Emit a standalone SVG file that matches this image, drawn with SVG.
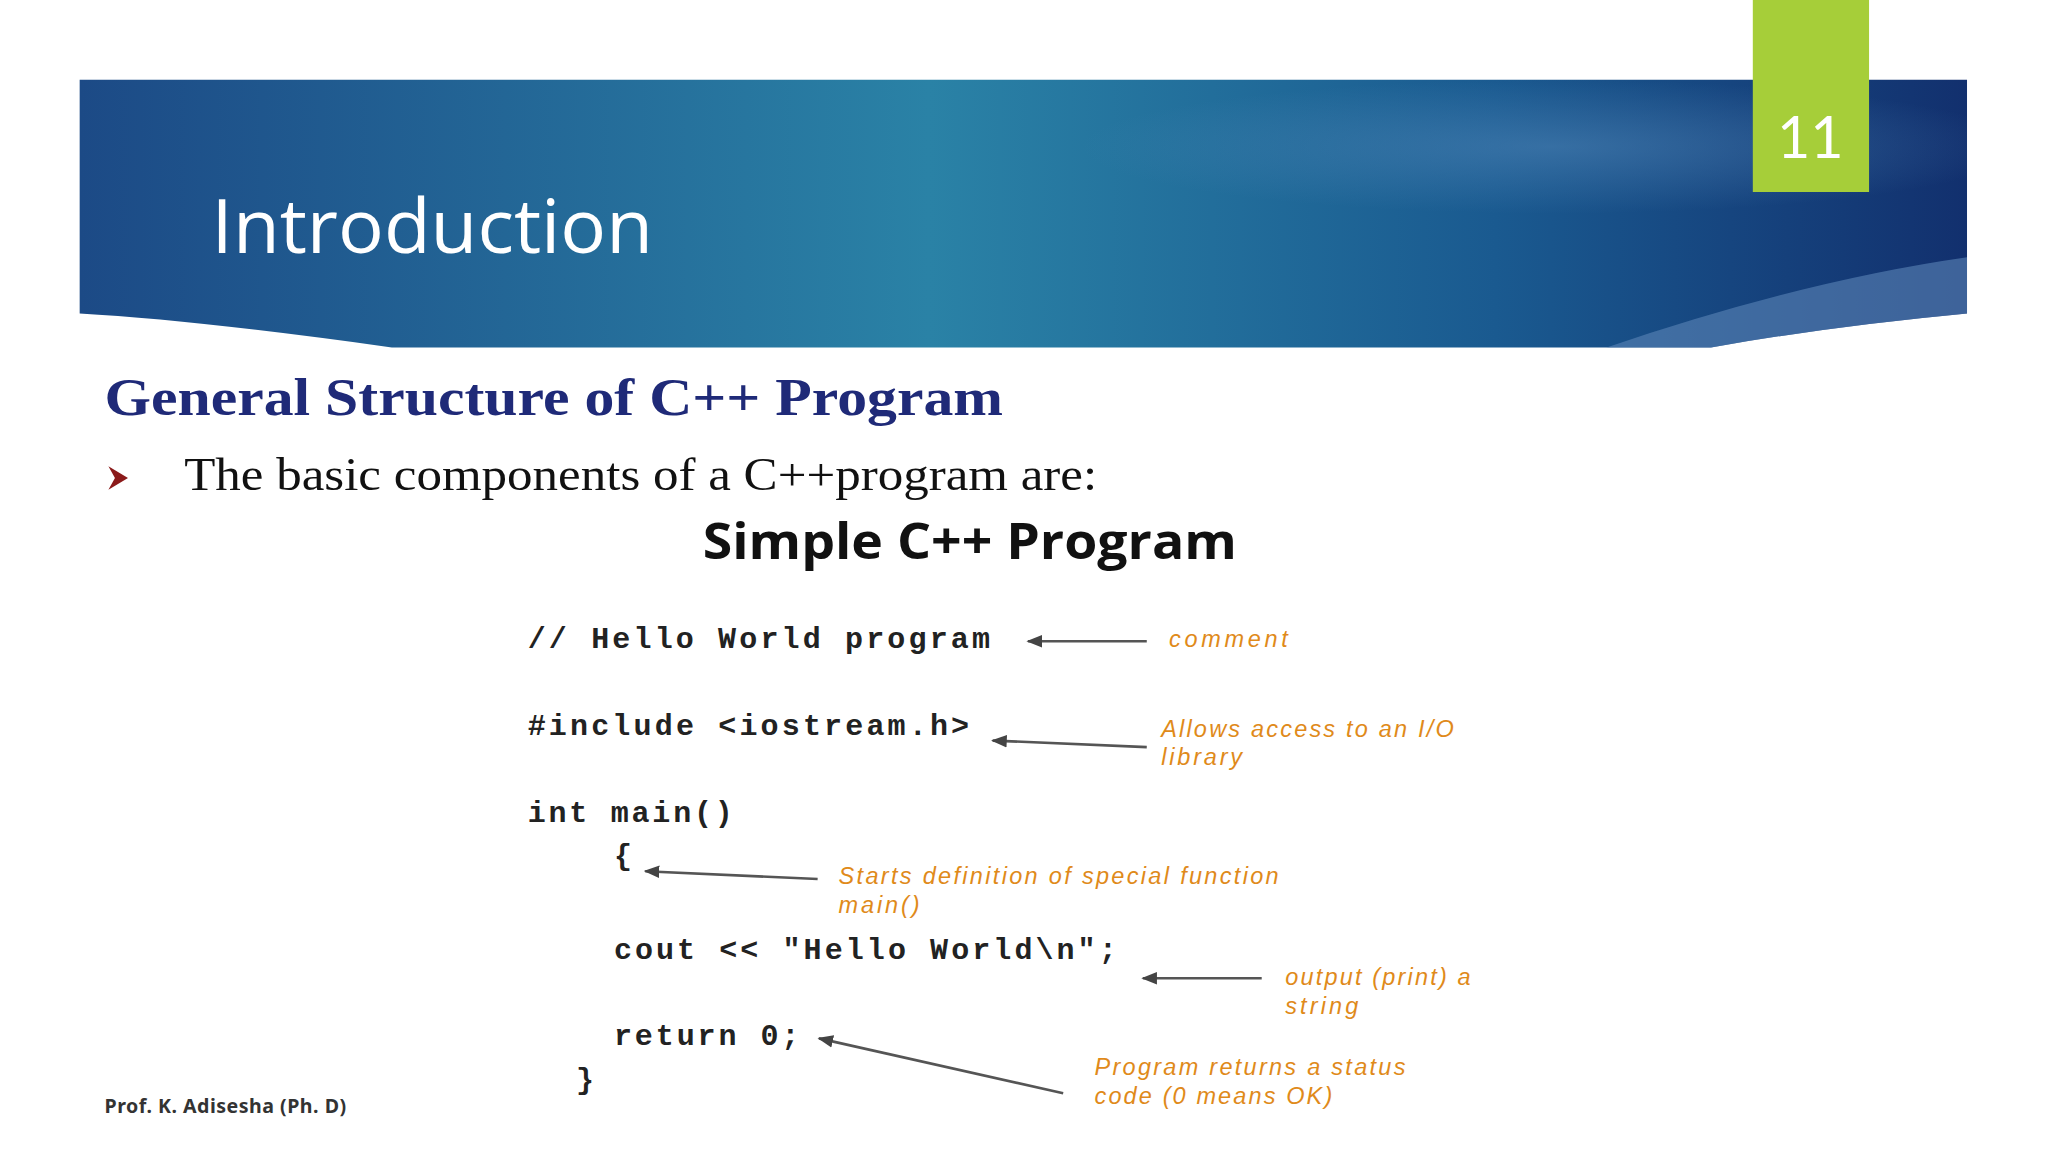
<svg xmlns="http://www.w3.org/2000/svg" width="2048" height="1152" viewBox="0 0 2048 1152">
<defs>
<linearGradient id="bg" x1="0" y1="0" x2="1" y2="0">
<stop offset="0" stop-color="#1c4a86"/><stop offset="0.45" stop-color="#2a82a6"/><stop offset="0.75" stop-color="#1a5a90"/><stop offset="1" stop-color="#12306e"/>
</linearGradient>
<radialGradient id="glow" cx="0.78" cy="0.25" r="0.25"><stop offset="0" stop-color="#5a8fc0" stop-opacity="0.45"/><stop offset="1" stop-color="#5a8fc0" stop-opacity="0"/></radialGradient>
<marker id="ah" viewBox="0 0 10 10" refX="9" refY="5" markerWidth="6" markerHeight="6" orient="auto"><path d="M0,1 L10,5 L0,9 Z" fill="#444"/></marker>
<style>
.code{font-family:"Liberation Mono",monospace;font-weight:bold;font-size:23px;fill:#222}
.note{font-family:"Liberation Sans",Arial,sans-serif;font-style:italic;font-size:18px;fill:#e08a1a}
.ln{stroke:#555;stroke-width:2;fill:none;marker-end:url(#ah)}
</style>
</defs>
<rect width="2048" height="1152" fill="#fff"/>
<g transform="scale(1.30612)">
<g id="banner">
<path d="M61,61 H1506 V240 Q1400,250 1310,266 H300 Q150,245 61,240 Z" fill="url(#bg)"/>
<path d="M61,61 H1506 V240 Q1400,250 1310,266 H300 Q150,245 61,240 Z" fill="url(#glow)"/>
<path d="M1230,266 Q1380,215 1506,197 V240 Q1400,250 1310,266 Z" fill="#5b86b8" opacity="0.6"/>
<text x="162" y="194" font-family="Open Sans,Liberation Sans,sans-serif" font-size="58" fill="#fff" textLength="338" lengthAdjust="spacingAndGlyphs">Introduction</text>
</g>
<g id="pagenum">
<rect x="1342" y="0" width="89" height="147" fill="#a6ce39"/>
<text x="1386" y="121" text-anchor="middle" font-family="Lato,Liberation Sans,sans-serif" font-size="44" fill="#fff">11</text>
</g>
<text x="80" y="318" font-family="Liberation Serif,serif" font-weight="bold" font-size="41" fill="#1f2a78" textLength="688" lengthAdjust="spacingAndGlyphs">General Structure of C++ Program</text>
<path d="M83,357 L98,366 L83,375 L88,366 Z" fill="#8b1a1a"/>
<text x="141" y="375" font-family="Liberation Serif,serif" font-size="36" fill="#111" textLength="699" lengthAdjust="spacingAndGlyphs">The basic components of a C++program are:</text>
<text x="538" y="428" font-family="Open Sans,Liberation Sans,sans-serif" font-weight="bold" font-size="39" fill="#111" textLength="409" lengthAdjust="spacingAndGlyphs">Simple C++ Program</text>
<g id="code">
<text class="code" x="404" y="496" textLength="354">// Hello World program</text>
<text class="code" x="404" y="563" textLength="338">#include &lt;iostream.h&gt;</text>
<text class="code" x="404" y="629" textLength="157">int main()</text>
<text class="code" x="470" y="662">{</text>
<text class="code" x="470" y="734" textLength="385">cout &lt;&lt; "Hello World\n";</text>
<text class="code" x="470" y="800" textLength="142">return 0;</text>
<text class="code" x="441" y="834">}</text>
</g>
<g id="notes">
<text class="note" x="895" y="495" textLength="91">comment</text>
<text class="note" x="889" y="564" textLength="224">Allows access to an I/O</text>
<text class="note" x="889" y="586" textLength="62">library</text>
<text class="note" x="642" y="677" textLength="337">Starts definition of special function</text>
<text class="note" x="642" y="699" textLength="62">main()</text>
<text class="note" x="984" y="754" textLength="142">output (print) a</text>
<text class="note" x="984" y="776" textLength="56">string</text>
<text class="note" x="838" y="823" textLength="238">Program returns a status</text>
<text class="note" x="838" y="845" textLength="182">code (0 means OK)</text>
</g>
<g id="connectors">
<line class="ln" x1="878" y1="491" x2="787" y2="491"/>
<line class="ln" x1="878" y1="572" x2="760" y2="567"/>
<line class="ln" x1="626" y1="673" x2="494" y2="667"/>
<line class="ln" x1="966" y1="749" x2="875" y2="749"/>
<line class="ln" x1="814" y1="837" x2="627" y2="795"/>
</g>
<text x="80" y="852" font-family="Noto Sans,Liberation Sans,sans-serif" font-weight="bold" font-size="15" fill="#333" textLength="185">Prof. K. Adisesha (Ph. D)</text>
</g>
</svg>
